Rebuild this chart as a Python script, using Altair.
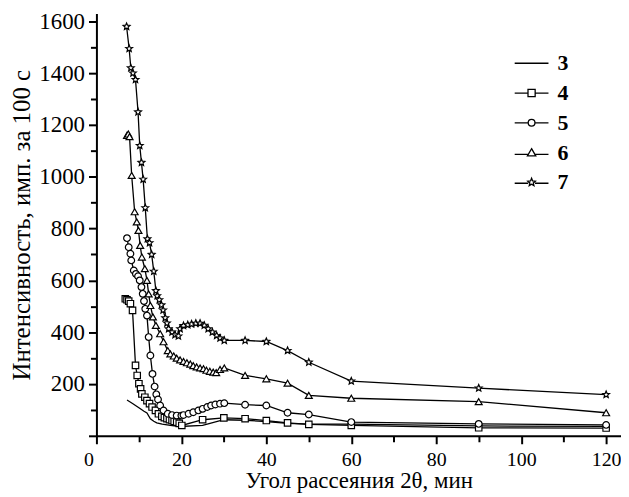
import altair as alt
import pandas as pd

# ---- data ----
s3_x = [7.2, 8.5, 10.0, 11.2, 11.9, 12.7, 13.5, 14.2, 15.5, 17.4, 19.7, 25, 30, 35, 40, 45, 50, 60, 90, 120]
s3_y = [138, 125, 108, 95, 88, 66, 56, 50, 45, 40, 36, 40, 62, 60, 55, 48, 45, 45, 38, 36]

s4_x = [6.8, 7.2, 7.6, 8.0, 8.5, 9.2, 9.6, 10.0, 10.4, 10.7, 11.4, 11.9, 12.5, 13.1, 13.9, 14.6, 15.4, 16.0,
        16.6, 17.2, 17.8, 18.3, 18.9, 19.5, 20.1, 25, 30, 35, 40, 45, 50, 60, 90, 120]
s4_y = [529, 525, 520, 510, 484, 272, 233, 201, 181, 162, 149, 136, 124, 111, 98, 85, 75, 70,
        66, 62, 59, 56, 53, 48, 40, 62, 69, 66, 59, 50, 44, 40, 31, 30]

s5_x = [7.2, 7.6, 8.0, 8.2, 8.8, 9.3, 9.8, 10.2, 10.6, 10.9, 11.2, 11.5, 11.9, 12.3, 12.7, 13.2, 13.7, 14.1,
        14.5, 15.0, 15.8, 16.8, 17.8, 18.9, 20.0, 20.5, 21.7, 22.8, 24.0, 25.0, 26.1, 27.0, 28.0, 29.1, 30.1,
        35, 40, 45, 50, 60, 90, 120]
s5_y = [763, 728, 703, 677, 638, 625, 616, 600, 574, 548, 520, 490, 464, 381, 310, 239, 190, 160,
        140, 117, 98, 85, 80, 78, 78, 80, 85, 91, 98, 104, 111, 117, 121, 124, 126,
        120, 117, 89, 82, 53, 46, 42]

s6_x = [7.2, 7.5, 7.8, 8.3, 9.0, 9.5, 9.9, 10.3, 10.7, 11.4, 11.9, 12.3, 12.7, 13.3, 14.0, 15.0, 15.8, 16.8,
        17.4, 18.2, 18.9, 19.7, 20.5, 21.3, 22.1, 22.8, 23.6, 24.4, 25.2, 25.9, 26.7, 27.5, 28.2, 29.1, 30.1,
        35, 40, 45, 50, 60, 90, 120]
s6_y = [1160, 1165, 1155, 1005, 865, 826, 793, 735, 690, 645, 600, 548, 503, 459, 426, 394, 363, 329,
        316, 308, 300, 293, 287, 282, 277, 271, 266, 262, 259, 253, 249, 246, 244, 256, 262,
        233, 220, 203, 156, 145, 132, 89]

s7_x = [7.1, 7.7, 8.1, 8.6, 9.2, 9.8, 10.2, 10.6, 11.0, 11.5, 12.0, 12.5, 13.0, 13.5, 14.0, 14.3, 14.8, 15.3,
        15.7, 16.2, 16.6, 17.0, 17.8, 18.5, 19.3, 19.7, 20.5, 21.5, 22.4, 23.4, 24.4, 25.4, 26.3, 27.3, 28.3,
        29.1, 30.1, 35, 40, 45, 50, 60, 90, 120]
s7_y = [1580, 1495, 1420, 1400, 1375, 1250, 1120, 1055, 990, 880, 760, 745, 700, 635, 560, 540, 525, 505,
        485, 455, 435, 413, 400, 390, 385, 413, 425, 428, 431, 434, 434, 426, 413, 400, 387,
        377, 368, 368, 364, 329, 284, 211, 184, 159]

series_names = ["3", "4", "5", "6", "7"]
x_ticks = list(range(0, 121, 10))
y_ticks = list(range(0, 1601, 100))

x_title = "Угол рассеяния 2θ, мин"
y_title = "Интенсивность, имп. за 100 с"

# ---- table ----
rows = []
for name, xs, ys in zip(series_names, [s3_x, s4_x, s5_x, s6_x, s7_x], [s3_y, s4_y, s5_y, s6_y, s7_y]):
    for i, (xv, yv) in enumerate(zip(xs, ys)):
        rows.append({"x": xv, "y": yv, "series": name, "i": i})
df = pd.DataFrame(rows)

STAR = "M0,-1L0.265,-0.364L0.951,-0.309L0.428,0.139L0.588,0.809L0,0.45L-0.588,0.809L-0.428,0.139L-0.951,-0.309L-0.265,-0.364Z"

legend_paths = [
    "M-4.25,0H4.25",
    "M-4.25,0H-0.9M0.9,0H4.25M-0.9,-0.9H0.9V0.9H-0.9Z",
    "M-4.25,0H-0.85M0.85,0H4.25M0.85,0A0.85,0.85,0,1,1,-0.85,0A0.85,0.85,0,1,1,0.85,0Z",
    "M-4.25,0.45H-0.85M0.85,0.45H4.25M0,-1.0L1.05,0.8H-1.05Z",
    "M-4.25,0.2H-0.85M0.85,0.2H4.25" + STAR.replace("M0,-1", "M0,-1.05"),
]

FONT = "Liberation Serif"

xs = alt.X("x:Q", scale=alt.Scale(domain=[0, 123.5], nice=False, zero=False),
           axis=alt.Axis(values=x_ticks, title=x_title,
                         labelExpr="datum.value % 20 === 0 ? datum.label : ''",
                         tickSize={"condition": {"test": "datum.value % 20 === 0", "value": 8}, "value": 6},
                         labelOffset={"condition": {"test": "datum.value === 0", "value": -13}, "value": 0},
                         labelPadding=6, titlePadding=0))
ys = alt.Y("y:Q", scale=alt.Scale(domain=[0, 1630], nice=False),
           axis=alt.Axis(values=y_ticks, title=y_title, format="d",
                         labelExpr="datum.value % 200 === 0 && datum.value > 0 ? datum.label : ''",
                         tickSize={"condition": {"test": "datum.value % 200 === 0", "value": 8}, "value": 6},
                         labelPadding=4, titlePadding=4))

base = alt.Chart(df)

lines = base.mark_line(color="black", strokeWidth=1.3).encode(
    x=xs, y=ys, detail="series:N", order="i:Q"
)

points = base.transform_filter("datum.series !== '3'").mark_point(
    filled=True, fill="white", stroke="black", strokeWidth=1.2, opacity=1
).encode(
    x=xs, y=ys,
    shape=alt.Shape("series:N", scale=alt.Scale(domain=["4", "5", "6", "7"],
                                                range=["square", "circle", "triangle-up", STAR]),
                    legend=None),
    size=alt.Size("series:N", scale=alt.Scale(domain=["4", "5", "6", "7"], range=[42, 52, 70, 85]),
                  legend=None),
)

legend_layer = base.transform_filter("false").mark_point(
    filled=False, color="black", strokeWidth=1.3, opacity=1
).encode(
    x=xs, y=ys,
    shape=alt.Shape("series:N", scale=alt.Scale(domain=series_names, range=legend_paths),
                    legend=alt.Legend(title=None, orient="none", legendX=427, legendY=39,
                                      labelFont=FONT, labelFontSize=22, labelFontWeight="bold",
                                      labelColor="black", symbolSize=64, symbolStrokeWidth=1.3,
                                      symbolStrokeColor="black", symbolOpacity=1,
                                      labelOffset=15, rowPadding=8, padding=0)),
)

chart = alt.layer(lines, points, legend_layer).resolve_scale(shape="independent", size="independent").properties(
    width=528, height=425,
    autosize=alt.AutoSizeParams(type="none"),
    padding={"left": 89, "top": 4, "right": 0, "bottom": 60},
).configure_view(stroke=None).configure_axis(
    grid=False, domainColor="black", domainWidth=2, tickColor="black", tickWidth=2,
    labelFont=FONT, labelFontSize=23, labelColor="black",
    titleFont=FONT, titleFontSize=25, titleColor="black", titleFontWeight="normal",
).configure_axisX(labelFontSize=20, titleFontSize=23)

chart.save("out.html", embed_options={"renderer": "svg", "actions": False})
